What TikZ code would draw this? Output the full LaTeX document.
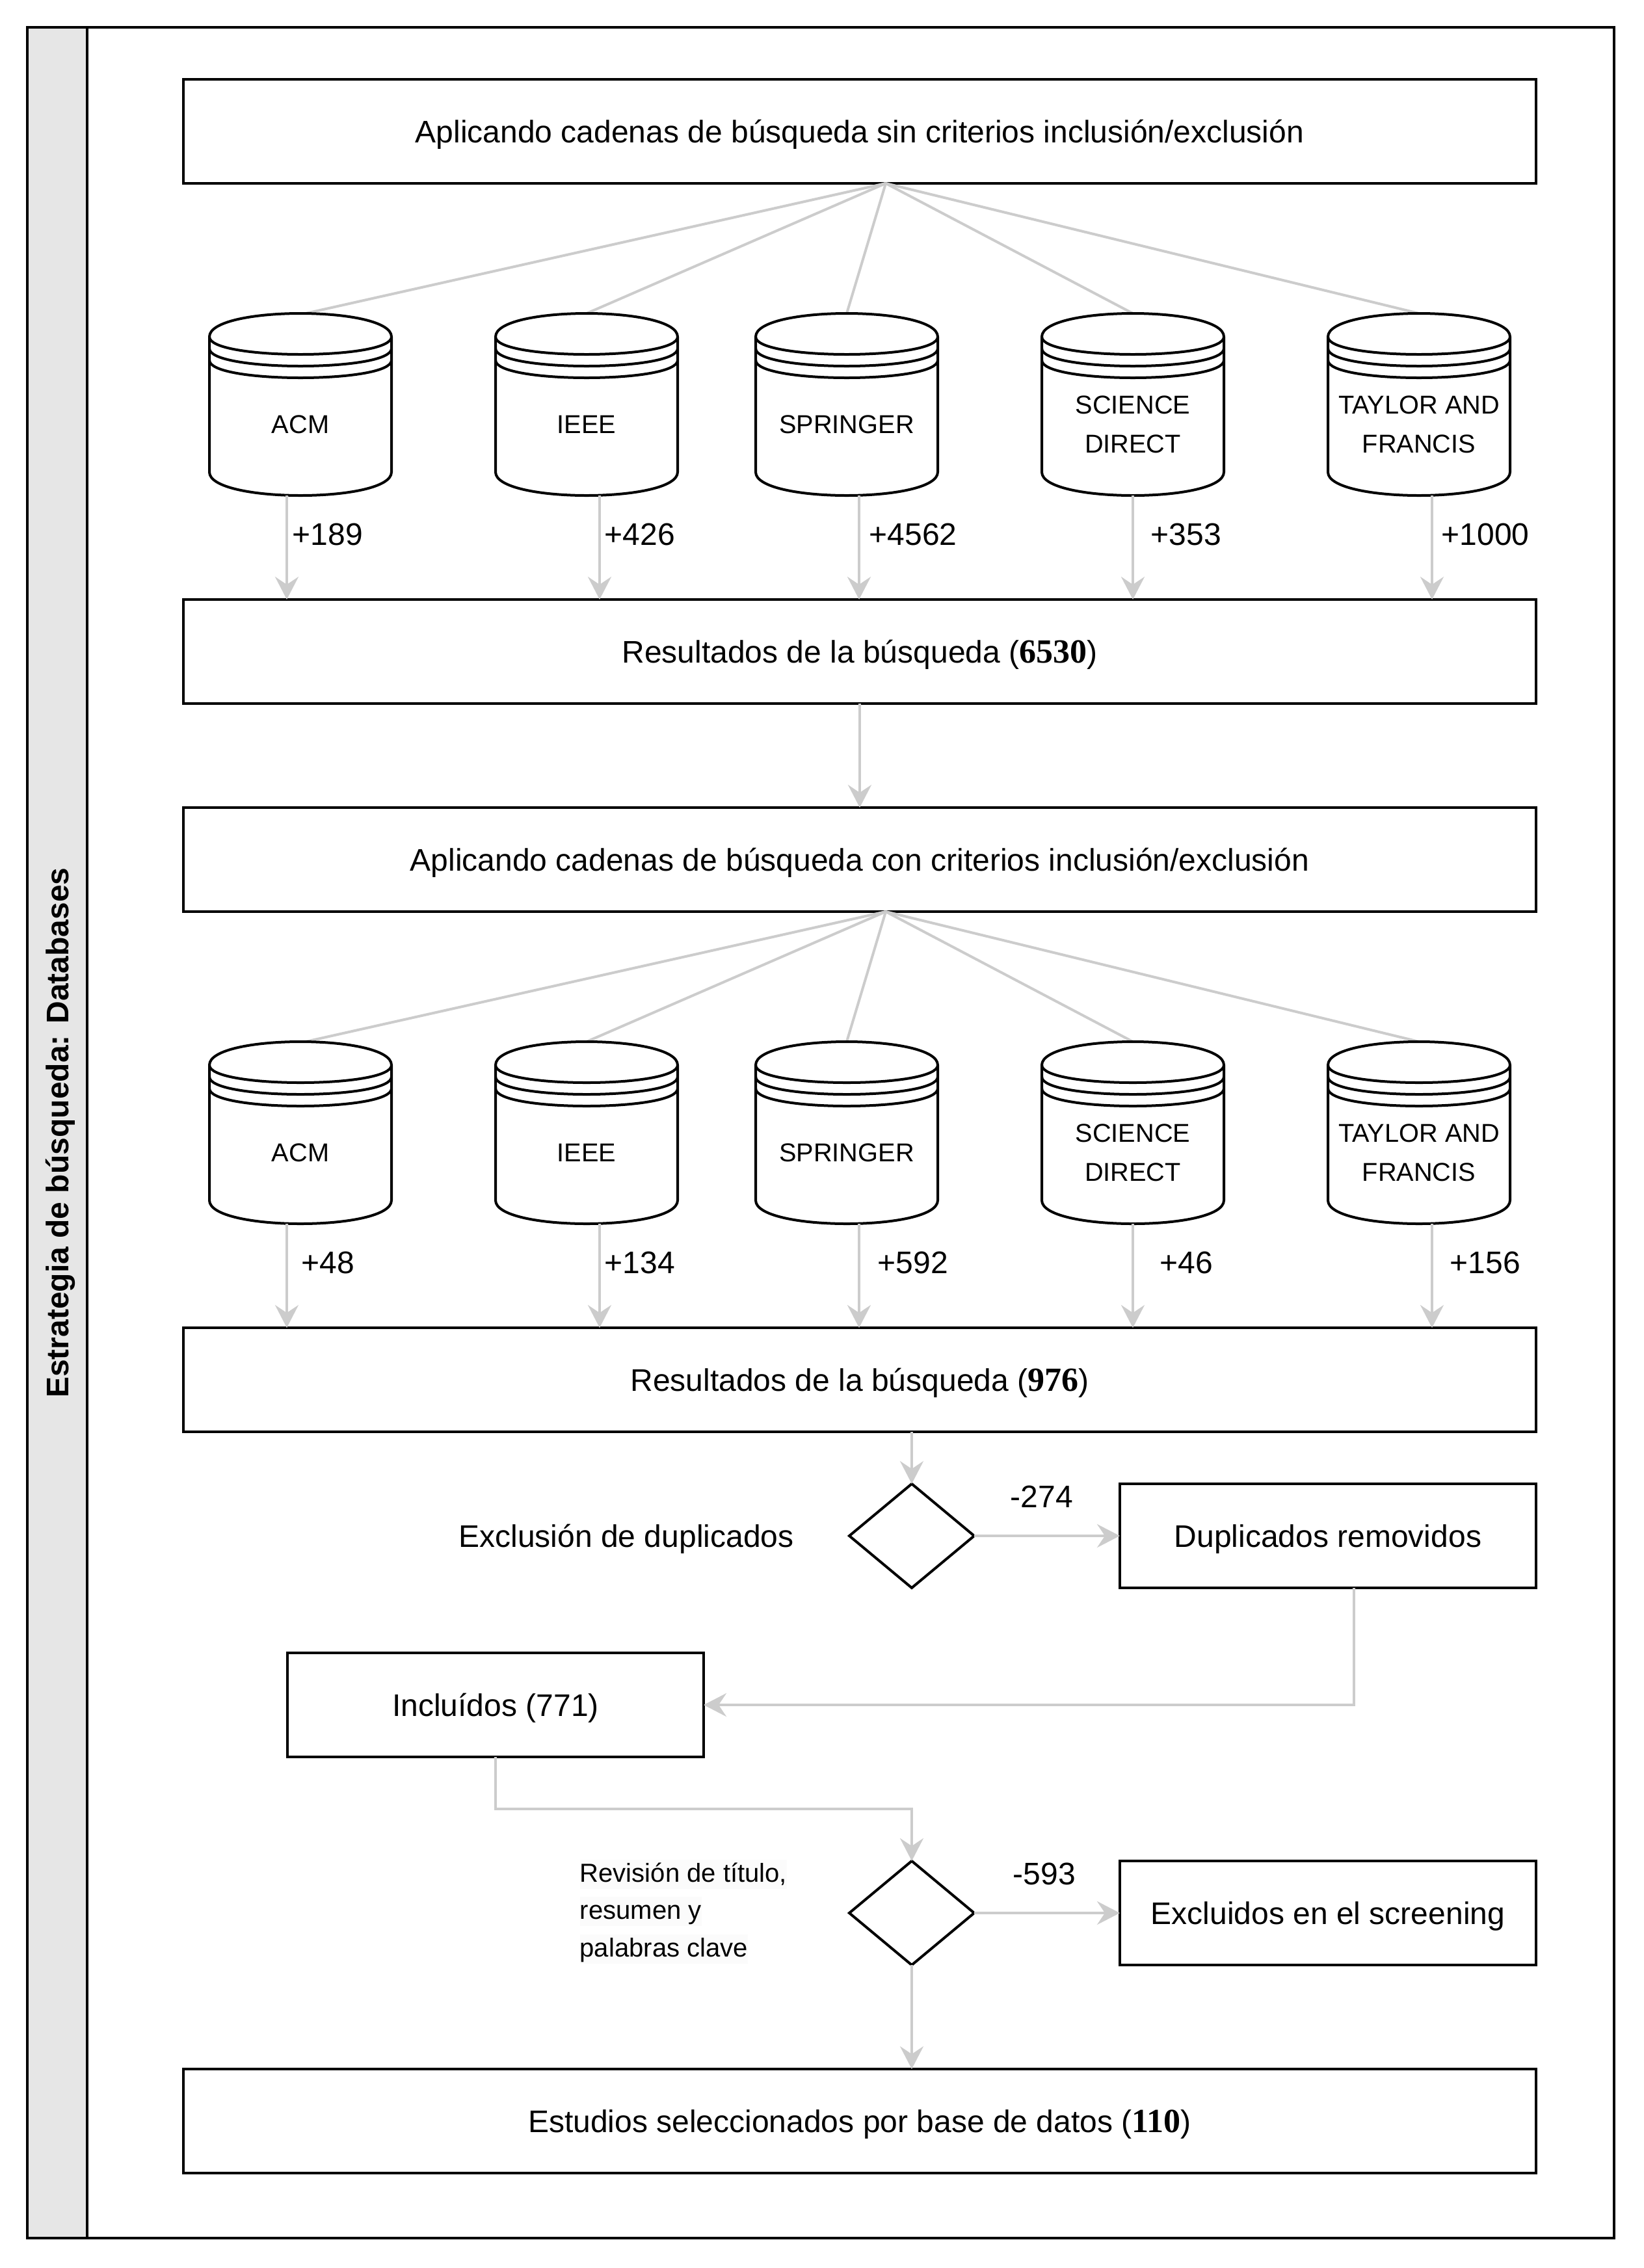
\documentclass[tikz,border=0pt]{standalone}
\usepackage{fontspec}
\setmainfont{Liberation Sans}
\newfontfamily\numfont{Liberation Serif}
\usetikzlibrary{shapes.geometric,arrows.meta}

\definecolor{flowgray}{RGB}{204,204,204}
\definecolor{bandgray}{RGB}{230,230,230}
\definecolor{notegray}{RGB}{251,251,251}

\newcommand{\boldnum}[1]{{\fontsize{14.8}{16}\numfont\bfseries #1}}

\tikzset{
    boxnode/.style={draw,line width=0.4mm,rectangle,minimum height=16mm,inner sep=0pt,outer sep=0pt,
        text height=3.4mm,text depth=0pt,font=\fontsize{13.66}{16}\selectfont},
    widebox/.style={boxnode,minimum width=208mm},
    sidebox/.style={boxnode,minimum width=64mm},
    framenode/.style={draw,line width=0.4mm,minimum width=244mm,minimum height=340mm,inner sep=0pt,outer sep=0pt},
    bandnode/.style={draw,fill=bandgray,line width=0.4mm,rotate=90,minimum width=340mm,minimum height=9.2mm,inner sep=0pt,
        text height=3.4mm,text depth=0pt,font=\fontsize{13.66}{16}\selectfont\bfseries},
    dbnode/.style={rectangle,minimum width=28mm,minimum height=28mm,inner sep=0pt,outer sep=0pt},
    dbtext/.style={align=center,inner sep=0pt,font=\fontsize{11.3}{17}\selectfont},
    dbline/.style={line width=0.4mm,line join=round},
    choicenode/.style={draw,diamond,line width=0.4mm,shape aspect=1.2,minimum width=19.2mm,minimum height=16mm,inner sep=0pt,outer sep=0pt},
    countlabel/.style={inner sep=0pt,text height=3.4mm,text depth=0pt,font=\fontsize{13.66}{16}\selectfont},
    notetext/.style={anchor=west,fill=notegray,inner sep=0pt,text height=3.4mm,text depth=1.1mm,font=\fontsize{11.4}{16}\selectfont},
    flowline/.style={draw=flowgray,line width=0.4mm},
    flowarrow/.style={flowline,-{Stealth[length=3.5mm,width=3.6mm,inset=1.2mm,color=flowgray]}}
}

\newcommand{\dbstack}[2]{
    \begin{scope}[shift={(#1.north west)}]
        \draw[dbline] (0,3.6) .. controls (0,-1.2) and (28,-1.2) .. (28,3.6) -- (28,24.4)
            .. controls (28,29.2) and (0,29.2) .. (0,24.4) -- cycle;
        \draw[dbline] (0,3.6) .. controls (0,7.2) and (28,7.2) .. (28,3.6);
        \draw[dbline] (0,5.4) .. controls (0,9) and (28,9) .. (28,5.4);
        \draw[dbline] (0,7.2) .. controls (0,10.8) and (28,10.8) .. (28,7.2);
    \end{scope}
    \node[dbtext] (#1text) at ([yshift=-3.1mm]#1.center) {#2};
}

\begin{document}
\begin{tikzpicture}[x=1mm,y=-1mm]
    \useasboundingbox (0,0) rectangle (252.8,348.8);

    \node[framenode] (frameA) at (126.2,174.2) {};
    \node[bandnode] (bandA) at (8.8,174.2) {Estrategia de búsqueda: Databases};

    \node[widebox] (boxA) at (132.2,20.2) {Aplicando cadenas de búsqueda sin criterios inclusión/exclusión};
    \node[widebox] (resA) at (132.2,100.2) {Resultados de la búsqueda (\boldnum{6530})};
    \node[widebox] (boxB) at (132.2,132.2) {Aplicando cadenas de búsqueda con criterios inclusión/exclusión};
    \node[widebox] (resB) at (132.2,212.2) {Resultados de la búsqueda (\boldnum{976})};
    \node[widebox] (finalbox) at (132.2,326.2) {Estudios seleccionados por base de datos (\boldnum{110})};

    \node[dbnode] (acmA) at (46.2,62.2) {};
    \node[dbnode] (ieeeA) at (90.2,62.2) {};
    \node[dbnode] (springerA) at (130.2,62.2) {};
    \node[dbnode] (scienceA) at (174.2,62.2) {};
    \node[dbnode] (taylorA) at (218.2,62.2) {};
    \node[dbnode] (acmB) at (46.2,174.2) {};
    \node[dbnode] (ieeeB) at (90.2,174.2) {};
    \node[dbnode] (springerB) at (130.2,174.2) {};
    \node[dbnode] (scienceB) at (174.2,174.2) {};
    \node[dbnode] (taylorB) at (218.2,174.2) {};

    \coordinate (fanA) at ([xshift=4mm]boxA.south);
    \coordinate (fanB) at ([xshift=4mm]boxB.south);

    \draw[flowline] (fanA) -- ([xshift=0.8mm]acmA.north);
    \draw[flowline] (fanA) -- (ieeeA.north);
    \draw[flowline] (fanA) -- (springerA.north);
    \draw[flowline] (fanA) -- (scienceA.north);
    \draw[flowline] (fanA) -- (taylorA.north);
    \draw[flowline] (fanB) -- ([xshift=0.8mm]acmB.north);
    \draw[flowline] (fanB) -- (ieeeB.north);
    \draw[flowline] (fanB) -- (springerB.north);
    \draw[flowline] (fanB) -- (scienceB.north);
    \draw[flowline] (fanB) -- (taylorB.north);

    \dbstack{acmA}{ACM}
    \dbstack{ieeeA}{IEEE}
    \dbstack{springerA}{SPRINGER}
    \dbstack{scienceA}{SCIENCE\\DIRECT}
    \dbstack{taylorA}{TAYLOR AND\\FRANCIS}
    \dbstack{acmB}{ACM}
    \dbstack{ieeeB}{IEEE}
    \dbstack{springerB}{SPRINGER}
    \dbstack{scienceB}{SCIENCE\\DIRECT}
    \dbstack{taylorB}{TAYLOR AND\\FRANCIS}

    \draw[flowarrow] ([xshift=-2.1mm]acmA.south) -- ([xshift=-2.1mm]acmA.south |- resA.north);
    \draw[flowarrow] ([xshift=2mm]ieeeA.south) -- ([xshift=2mm]ieeeA.south |- resA.north);
    \draw[flowarrow] ([xshift=1.9mm]springerA.south) -- ([xshift=1.9mm]springerA.south |- resA.north);
    \draw[flowarrow] (scienceA.south) -- (scienceA.south |- resA.north);
    \draw[flowarrow] ([xshift=2mm]taylorA.south) -- ([xshift=2mm]taylorA.south |- resA.north);
    \draw[flowarrow] (resA.south) -- (boxB.north);
    \draw[flowarrow] ([xshift=-2.1mm]acmB.south) -- ([xshift=-2.1mm]acmB.south |- resB.north);
    \draw[flowarrow] ([xshift=2mm]ieeeB.south) -- ([xshift=2mm]ieeeB.south |- resB.north);
    \draw[flowarrow] ([xshift=1.9mm]springerB.south) -- ([xshift=1.9mm]springerB.south |- resB.north);
    \draw[flowarrow] (scienceB.south) -- (scienceB.south |- resB.north);
    \draw[flowarrow] ([xshift=2mm]taylorB.south) -- ([xshift=2mm]taylorB.south |- resB.north);

    \node[countlabel] (countA1) at (50.4,82.1) {+189};
    \node[countlabel] (countA2) at (98.4,82.1) {+426};
    \node[countlabel] (countA3) at (140.4,82.1) {+4562};
    \node[countlabel] (countA4) at (182.4,82.1) {+353};
    \node[countlabel] (countA5) at (228.4,82.1) {+1000};
    \node[countlabel] (countB1) at (50.4,194.1) {+48};
    \node[countlabel] (countB2) at (98.4,194.1) {+134};
    \node[countlabel] (countB3) at (140.4,194.1) {+592};
    \node[countlabel] (countB4) at (182.4,194.1) {+46};
    \node[countlabel] (countB5) at (228.4,194.1) {+156};

    \node[choicenode] (choiceA) at (140.2,236.2) {};
    \node[sidebox] (dupbox) at (204.2,236.2) {Duplicados removidos};
    \node[boxnode,minimum width=64mm] (inclbox) at (76.2,262.2) {Incluídos (771)};
    \node[choicenode] (choiceB) at (140.2,294.2) {};
    \node[sidebox] (exclbox) at (204.2,294.2) {Excluidos en el screening};

    \node[countlabel] (dupnote) at (96.3,236.2) {Exclusión de duplicados};
    \node[countlabel] (dupcount) at (160.2,230.1) {-274};
    \node[countlabel] (exclcount) at (160.6,288.1) {-593};
    \node[notetext] (revnoteA) at (89.1,288.25) {Revisión de título,\ };
    \node[notetext] (revnoteB) at (89.1,293.95) {resumen y\ };
    \node[notetext] (revnoteC) at (89.1,299.75) {palabras clave};

    \draw[flowarrow] (choiceA.north |- resB.south) -- (choiceA.north);
    \draw[flowarrow] (choiceA.east) -- (dupbox.west);
    \draw[flowarrow] ([xshift=4mm]dupbox.south) |- (inclbox.east);
    \draw[flowarrow] (inclbox.south) |- (140.2,278.2) -- (choiceB.north);
    \draw[flowarrow] (choiceB.east) -- (exclbox.west);
    \draw[flowarrow] (choiceB.south) -- (finalbox.north -| choiceB.south);
\end{tikzpicture}
\end{document}
